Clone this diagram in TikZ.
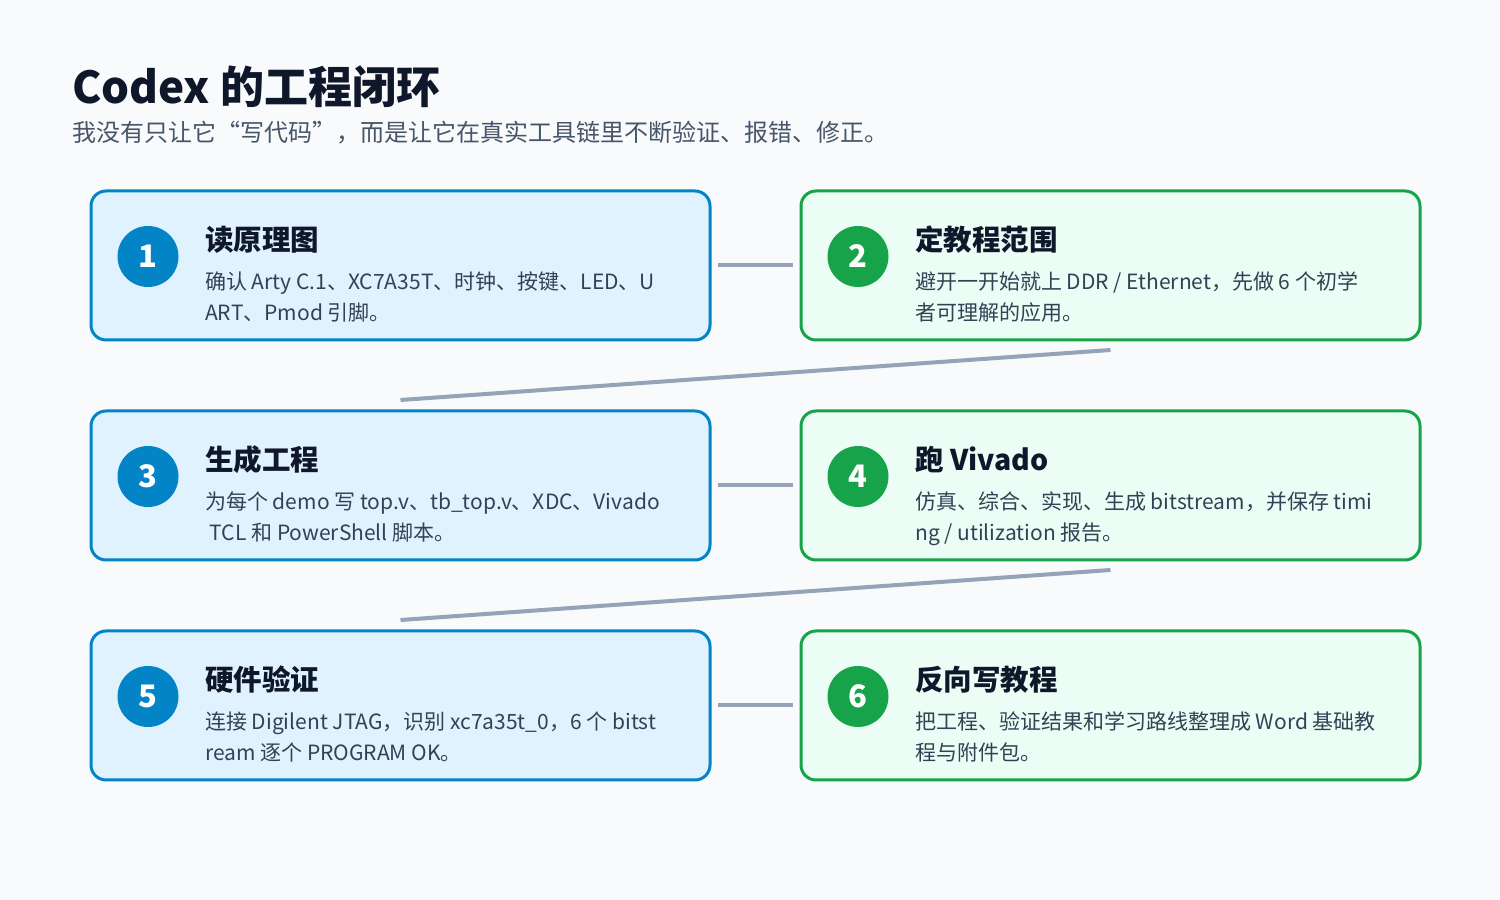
\documentclass[tikz,border=0pt]{standalone}
\usepackage{fontspec}
\setmainfont{Noto Sans CJK SC}
\usepackage{tikz}

\begin{document}
\begin{tikzpicture}[x=1pt,y=1pt,
  card/.style={draw=#1Line,fill=#1Fill,line width=3pt,rounded corners=15pt,
    minimum width=619pt,minimum height=149pt,inner sep=0pt,outer sep=0pt},
  dot/.style={circle,fill=#1Line,minimum size=61pt,inner sep=0pt,text=white,
    font=\fontsize{31}{31}\selectfont\bfseries},
  cardtitle/.style={anchor=base west,inner sep=0pt,text=titleColor,
    font=\fontsize{28.5}{28.5}\selectfont\bfseries},
  cardtext/.style={anchor=base west,inner sep=0pt,text=bodyColor,
    font=\fontsize{21}{21}\selectfont},
  link/.style={draw=linkColor,line width=4pt}]
\definecolor{bgColor}{RGB}{248,250,252}
\definecolor{titleColor}{RGB}{15,23,42}
\definecolor{subColor}{RGB}{71,85,105}
\definecolor{bodyColor}{RGB}{51,65,85}
\definecolor{linkColor}{RGB}{148,163,184}
\definecolor{blueLine}{RGB}{2,132,199}
\definecolor{blueFill}{RGB}{224,242,254}
\definecolor{greenLine}{RGB}{22,163,74}
\definecolor{greenFill}{RGB}{236,253,245}
\path[use as bounding box,fill=bgColor] (0,0) rectangle (1500,900);

% heading
\node[anchor=base west,inner sep=0pt,text=titleColor,font=\fontsize{44}{44}\selectfont\bfseries] (head) at (72,796) {Codex 的工程闭环};
\node[anchor=base west,inner sep=0pt,text=subColor,font=\fontsize{24}{24}\selectfont] (subhead) at (72,758) {我没有只让它“写代码”，而是让它在真实工具链里不断验证、报错、修正。};

% cards
\node[card=blue] (card1) at ( 400.5,634.5) {};
\node[card=green] (card2) at (1110.5,634.5) {};
\node[card=blue] (card3) at ( 400.5,414.5) {};
\node[card=green] (card4) at (1110.5,414.5) {};
\node[card=blue] (card5) at ( 400.5,194.5) {};
\node[card=green] (card6) at (1110.5,194.5) {};

% links
\draw[link,shorten <=8pt,shorten >=8pt] (card1.east) -- (card2.west);
\draw[link] ([yshift=-10pt]card2.south) -- ([yshift=11pt]card3.north);
\draw[link,shorten <=8pt,shorten >=8pt] (card3.east) -- (card4.west);
\draw[link] ([yshift=-10pt]card4.south) -- ([yshift=11pt]card5.north);
\draw[link,shorten <=8pt,shorten >=8pt] (card5.east) -- (card6.west);

% card 1
\node[dot=blue] (num1) at ([xshift=-252.5pt,yshift=9pt]card1.center) {1};
\node[cardtitle] (title1) at ([xshift=114pt,yshift=14.5pt]card1.west) {读原理图};
\node[cardtext] (text1a) at ([xshift=114pt,yshift=-24.5pt]card1.west) {确认 Arty C.1、XC7A35T、时钟、按键、LED、U};
\node[cardtext] (text1b) at ([xshift=114pt,yshift=-55.5pt]card1.west) {ART、Pmod 引脚。};

% card 2
\node[dot=green] (num2) at ([xshift=-252.5pt,yshift=9pt]card2.center) {2};
\node[cardtitle] (title2) at ([xshift=114pt,yshift=14.5pt]card2.west) {定教程范围};
\node[cardtext] (text2a) at ([xshift=114pt,yshift=-24.5pt]card2.west) {避开一开始就上 DDR / Ethernet，先做 6 个初学};
\node[cardtext] (text2b) at ([xshift=114pt,yshift=-55.5pt]card2.west) {者可理解的应用。};

% card 3
\node[dot=blue] (num3) at ([xshift=-252.5pt,yshift=9pt]card3.center) {3};
\node[cardtitle] (title3) at ([xshift=114pt,yshift=14.5pt]card3.west) {生成工程};
\node[cardtext] (text3a) at ([xshift=114pt,yshift=-24.5pt]card3.west) {为每个 demo 写 top.v、tb\_top.v、XDC、Vivado};
\node[cardtext] (text3b) at ([xshift=114pt,yshift=-55.5pt]card3.west) {\ TCL 和 PowerShell 脚本。};

% card 4
\node[dot=green] (num4) at ([xshift=-252.5pt,yshift=9pt]card4.center) {4};
\node[cardtitle] (title4) at ([xshift=114pt,yshift=14.5pt]card4.west) {跑 Vivado};
\node[cardtext] (text4a) at ([xshift=114pt,yshift=-24.5pt]card4.west) {仿真、综合、实现、生成 bitstream，并保存 timi};
\node[cardtext] (text4b) at ([xshift=114pt,yshift=-55.5pt]card4.west) {ng / utilization 报告。};

% card 5
\node[dot=blue] (num5) at ([xshift=-252.5pt,yshift=9pt]card5.center) {5};
\node[cardtitle] (title5) at ([xshift=114pt,yshift=14.5pt]card5.west) {硬件验证};
\node[cardtext] (text5a) at ([xshift=114pt,yshift=-24.5pt]card5.west) {连接 Digilent JTAG，识别 xc7a35t\_0，6 个 bitst};
\node[cardtext] (text5b) at ([xshift=114pt,yshift=-55.5pt]card5.west) {ream 逐个 PROGRAM OK。};

% card 6
\node[dot=green] (num6) at ([xshift=-252.5pt,yshift=9pt]card6.center) {6};
\node[cardtitle] (title6) at ([xshift=114pt,yshift=14.5pt]card6.west) {反向写教程};
\node[cardtext] (text6a) at ([xshift=114pt,yshift=-24.5pt]card6.west) {把工程、验证结果和学习路线整理成 Word 基础教};
\node[cardtext] (text6b) at ([xshift=114pt,yshift=-55.5pt]card6.west) {程与附件包。};
\end{tikzpicture}
\end{document}
